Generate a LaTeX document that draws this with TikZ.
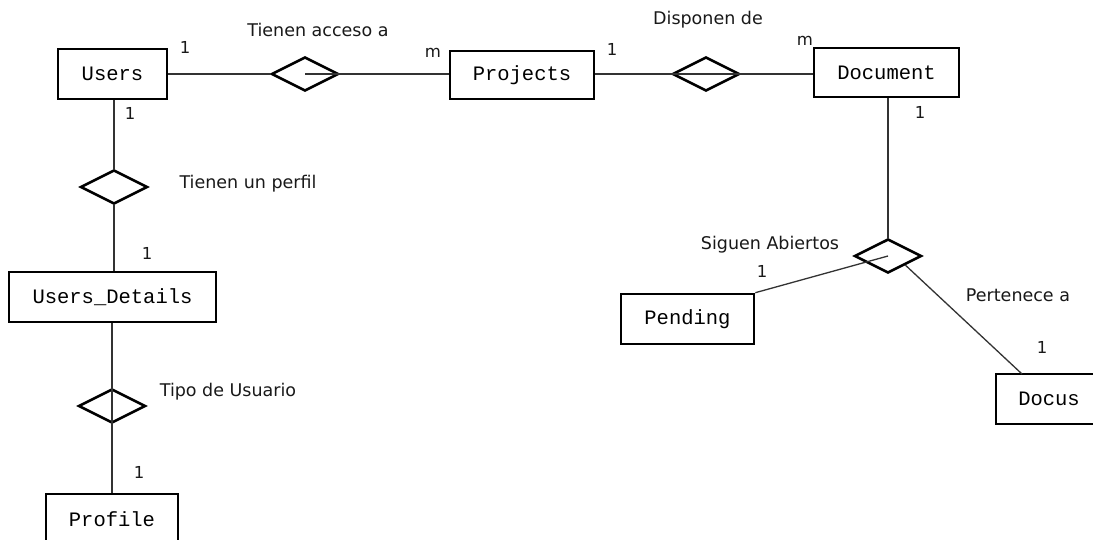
\documentclass[tikz,border=0pt]{standalone}
\usepackage{fontspec}
\setmainfont{DejaVu Sans}
\newfontfamily\entfont{Liberation Mono}
\usetikzlibrary{shapes.geometric,calc}
\tikzset{
  entity/.style={draw=black, line width=2.6pt, fill=white, inner sep=0pt,
    font=\entfont\fontsize{20.5}{23}\selectfont},
  rel/.style={draw=black, line width=2.6pt, shape=diamond, inner sep=0pt,
    minimum width=67pt, minimum height=34pt, shape aspect=2},
  conn/.style={draw=black!80, line width=1.3pt},
  lbl/.style={inner sep=0pt, font=\fontsize{17.5}{20}\selectfont, text=black!90},
  num/.style={inner sep=0pt, font=\fontsize{16.5}{19}\selectfont, text=black!90},
}
\begin{document}
\begin{tikzpicture}[x=1pt,y=-1pt]
\clip (0,0) rectangle (1093,539);
\fill[white] (0,0) rectangle (1093,539);
% entities
\node[entity, minimum width=109pt, minimum height=50pt] (users) at (112.5,74) {Users};
\node[entity, minimum width=144pt, minimum height=48pt] (projects) at (522,75) {Projects};
\node[entity, minimum width=145pt, minimum height=49pt] (document) at (886.5,72.5) {Document};
\node[entity, minimum width=207pt, minimum height=50pt] (details) at (112.5,297) {Users\_Details};
\node[entity, minimum width=133pt, minimum height=50pt] (pending) at (687.5,319) {Pending};
\node[entity, minimum width=106pt, minimum height=50pt] (docus) at (1049,399) {Docus};
\node[entity, minimum width=132pt, minimum height=50pt] (profile) at (112,519) {Profile};
% relationships
\node[rel] (acceso) at (305,74) {};
\node[rel] (disponen) at (706,74) {};
\node[rel] (siguen) at (888,256) {};
\node[rel] (perfil) at (114,187) {};
\node[rel] (tipo) at (112,406) {};
% connectors
\draw[conn] (users.east |- 0,74) -- (acceso.west);
\draw[conn] (acceso.center) -- (projects.west |- 0,74);
\draw[conn] (projects.east |- 0,74) -- (document.west |- 0,74);
\draw[conn] (document.south -| siguen.north) -- (siguen.north);
\draw[conn] (siguen.center) -- (pending.north east);
\coordinate (dtop) at (1022,374);
\draw[conn] ($(siguen.east)!0.5!(siguen.south)$) -- (dtop);
\draw[conn] (users.south -| perfil.north) -- (perfil.north);
\draw[conn] (perfil.south) -- (details.north -| perfil.south);
\draw[conn] (details.south -| tipo.north) -- (profile.north -| tipo.north);
% labels
\node[num] (l1) at (185,47) {1};
\node[lbl] (lacc) at (318,30) {Tienen acceso a};
\node[num] (lm1) at (433,53) {m};
\node[num] (l2) at (612,49) {1};
\node[lbl] (ldisp) at (708,20) {Disponen de};
\node[num] (lm2) at (805,41) {m};
\node[num] (l3) at (920,112) {1};
\node[num] (l4) at (130,113) {1};
\node[lbl] (lperf) at (248,184) {Tienen un perfil};
\node[num] (l5) at (147,253) {1};
\node[lbl] (ltipo) at (228,392) {Tipo de Usuario};
\node[num] (l6) at (139,472) {1};
\node[lbl] (lsig) at (770,245) {Siguen Abiertos};
\node[num] (l7) at (762,271) {1};
\node[lbl] (lpert) at (1018,295) {Pertenece a};
\node[num] (l8) at (1042,347) {1};
\end{tikzpicture}
\end{document}
